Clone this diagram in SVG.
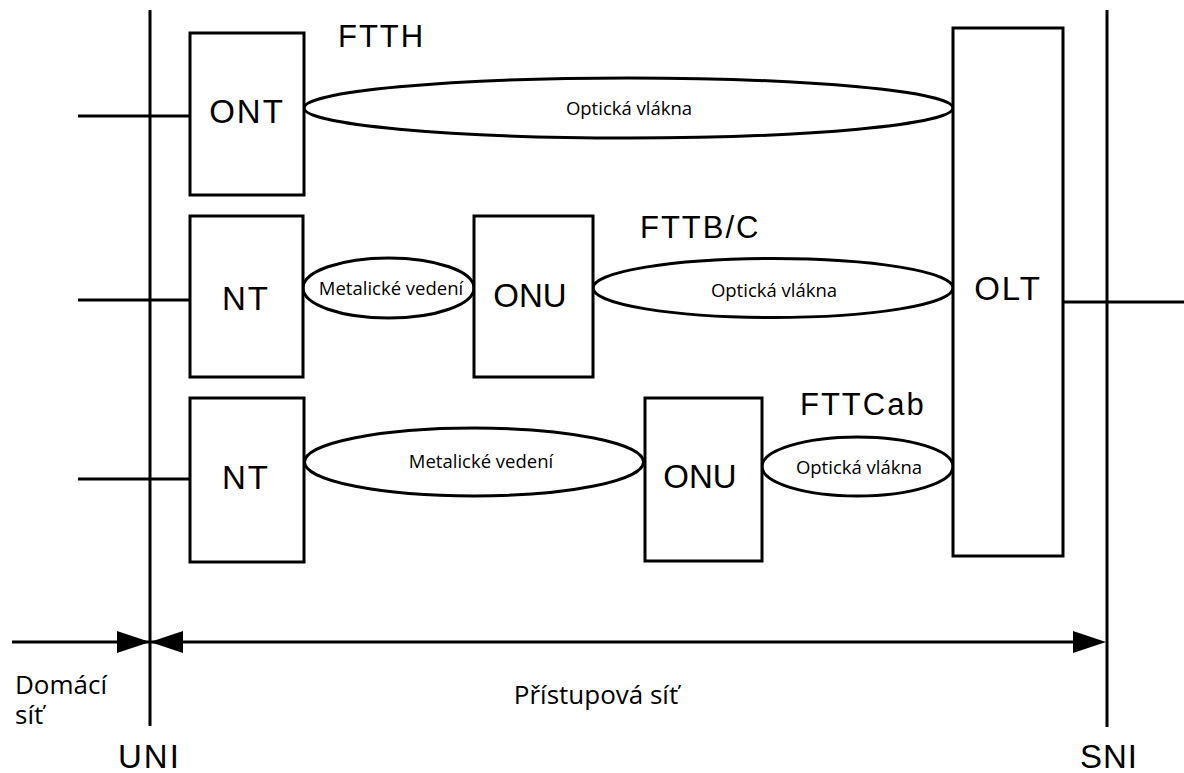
<svg xmlns="http://www.w3.org/2000/svg" width="1184" height="773" viewBox="0 0 1184 773">
<style>
.box{fill:#fff;stroke:#000;stroke-width:3}
.ell{fill:#fff;stroke:#000;stroke-width:3}
.ln{stroke:#000;stroke-width:3;fill:none}
.big{font-family:"Liberation Sans",Arial,sans-serif;font-size:33px;fill:#000}
.lab{font-family:"Liberation Sans",Arial,sans-serif;font-size:31px;letter-spacing:2px;fill:#000}
.sm{font-family:"Open Sans",sans-serif;font-size:18.5px;fill:#000}
.txt{font-family:"Open Sans",sans-serif;font-size:26px;fill:#000}
.ah{fill:#000}
</style>
<rect width="1184" height="773" fill="#fff"/>
<g id="connectors">
<line class="ln" x1="150" y1="10" x2="150" y2="726"/>
<line class="ln" x1="1107" y1="10" x2="1107" y2="727"/>
<line class="ln" x1="78" y1="116" x2="190" y2="116"/>
<line class="ln" x1="78" y1="300" x2="190" y2="300"/>
<line class="ln" x1="78" y1="479" x2="190" y2="479"/>
<line class="ln" x1="1063" y1="302" x2="1184" y2="302"/>
<line class="ln" x1="12" y1="642" x2="1090" y2="642"/>
<polygon class="ah" points="150,642 117,631 117,653"/>
<polygon class="ah" points="150,642 183,631 183,653"/>
<polygon class="ah" points="1106,642 1073,631 1073,653"/>
</g>
<g id="fiber1"><ellipse class="ell" cx="628.5" cy="108" rx="324.5" ry="30"/><text class="sm" x="629" y="115" text-anchor="middle">Optická vlákna</text></g>
<g id="metal2"><ellipse class="ell" cx="388.5" cy="288" rx="85.5" ry="30"/><text class="sm" x="391" y="295" text-anchor="middle">Metalické vedení</text></g>
<g id="fiber2"><ellipse class="ell" cx="773" cy="288" rx="180" ry="29.5"/><text class="sm" x="774" y="297" text-anchor="middle">Optická vlákna</text></g>
<g id="metal3"><ellipse class="ell" cx="474" cy="462" rx="169.5" ry="34"/><text class="sm" x="481" y="468" text-anchor="middle">Metalické vedení</text></g>
<g id="fiber3"><ellipse class="ell" cx="857.5" cy="466.5" rx="95.5" ry="29.5"/><text class="sm" x="859" y="474" text-anchor="middle">Optická vlákna</text></g>
<g id="ONT"><rect class="box" x="190" y="33" width="114" height="162"/><text class="big" x="247" y="123" text-anchor="middle" letter-spacing="2">ONT</text></g>
<g id="NT2"><rect class="box" x="190" y="216" width="113" height="161"/><text class="big" x="246" y="310" text-anchor="middle" letter-spacing="2">NT</text></g>
<g id="ONU2"><rect class="box" x="474" y="216" width="119" height="161"/><text class="big" x="530" y="307" text-anchor="middle">ONU</text></g>
<g id="NT3"><rect class="box" x="190" y="398" width="114" height="164"/><text class="big" x="246" y="489" text-anchor="middle" letter-spacing="2">NT</text></g>
<g id="ONU3"><rect class="box" x="645" y="398" width="117" height="163"/><text class="big" x="700" y="488" text-anchor="middle">ONU</text></g>
<g id="OLT"><rect class="box" x="953" y="28" width="110" height="528"/><text class="big" x="1008" y="300" text-anchor="middle" letter-spacing="2">OLT</text></g>
<g id="labels">
<text class="lab" x="338" y="47">FTTH</text>
<text class="lab" x="640" y="238">FTTB/C</text>
<text class="lab" x="800" y="415">FTTCab</text>
<text class="txt" x="15" y="694">Domácí</text>
<text class="txt" x="15" y="724">síť</text>
<text class="txt" x="596" y="704" text-anchor="middle">Přístupová síť</text>
<text class="big" x="118" y="768" font-size="31" letter-spacing="2">UNI</text>
<text class="big" x="1080" y="768" font-size="31" letter-spacing="1">SNI</text>
</g>
</svg>
